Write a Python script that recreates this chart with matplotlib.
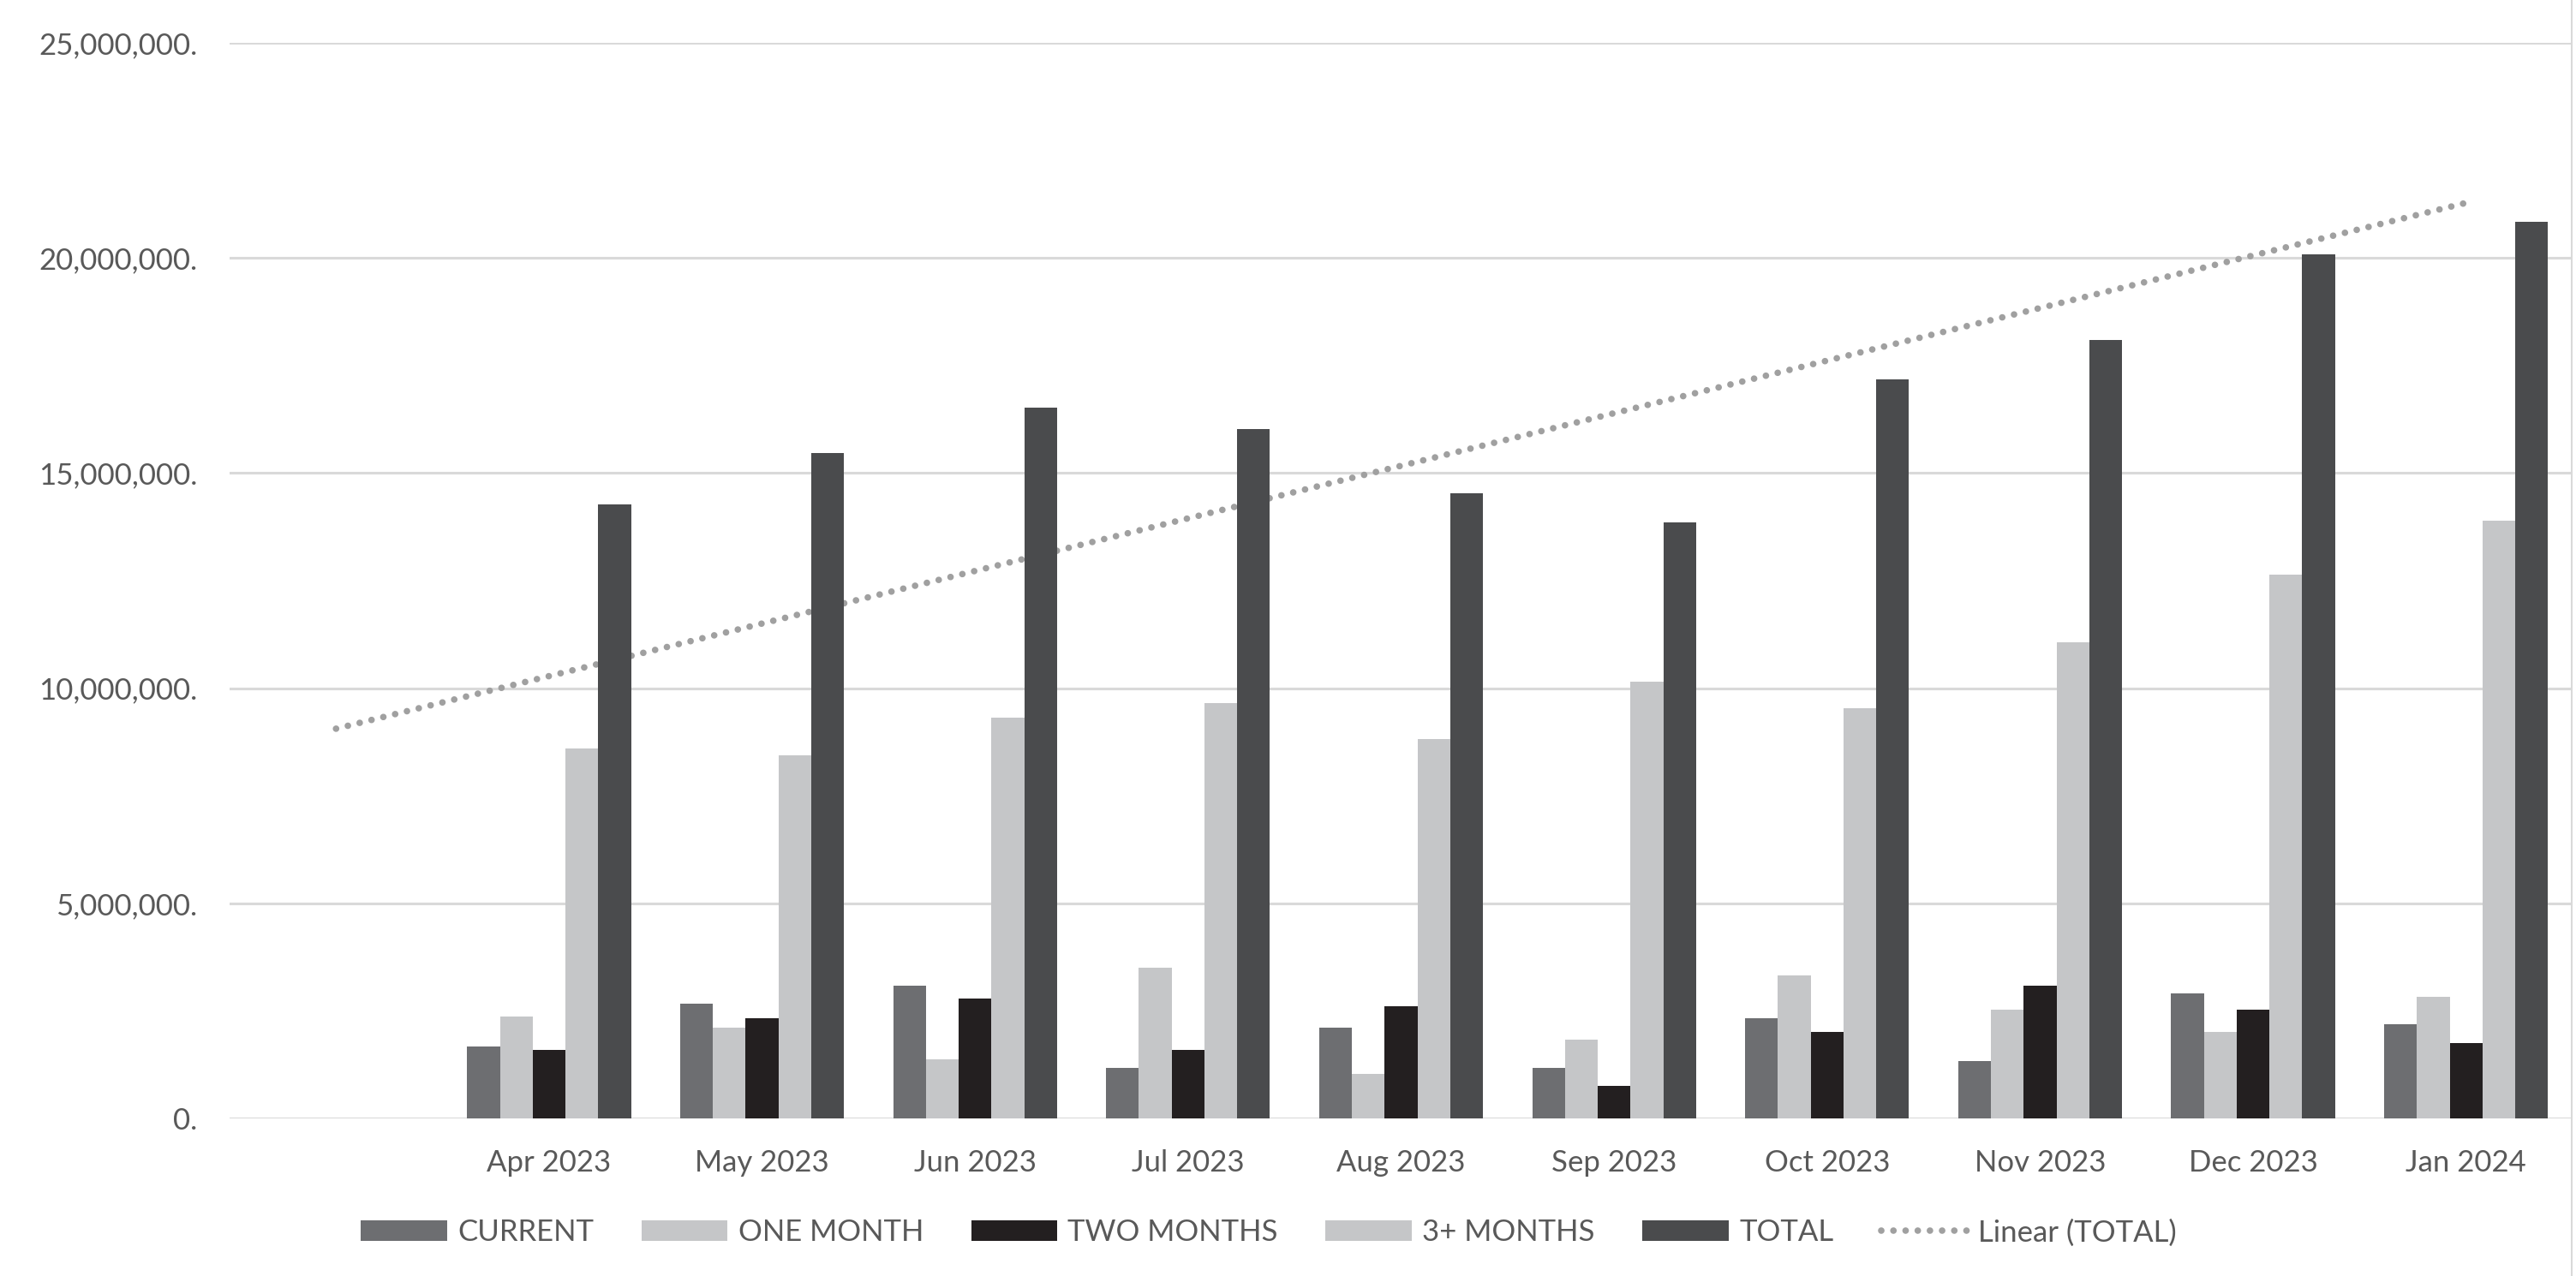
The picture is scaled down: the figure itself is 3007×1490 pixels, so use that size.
#!/usr/bin/env python3
"""Receivables ageing by month, grouped bars with a linear trend on TOTAL."""

import numpy as np
import matplotlib
matplotlib.use("Agg")
import matplotlib.pyplot as plt
from matplotlib.ticker import FuncFormatter

# first slot is an empty category in the source chart
MONTHS = ["", "Apr 2023", "May 2023", "Jun 2023", "Jul 2023", "Aug 2023",
          "Sep 2023", "Oct 2023", "Nov 2023", "Dec 2023", "Jan 2024"]

CURRENT = [1.68, 2.67, 3.09, 1.18, 2.10, 1.18, 2.33, 1.34, 2.90, 2.18]
ONE_MONTH = [2.37, 2.10, 1.37, 3.51, 1.03, 1.83, 3.32, 2.52, 2.02, 2.82]
TWO_MONTHS = [1.60, 2.33, 2.79, 1.60, 2.60, 0.76, 2.02, 3.09, 2.52, 1.76]
THREE_PLUS = [8.59, 8.44, 9.31, 9.66, 8.82, 10.15, 9.54, 11.07, 12.63, 13.89]
TOTAL = [14.27, 15.46, 16.53, 16.03, 14.54, 13.85, 17.18, 18.09, 20.08, 20.84]

SERIES = ["CURRENT", "ONE MONTH", "TWO MONTHS", "3+ MONTHS", "TOTAL"]
COLORS = ["#6d6e71", "#c5c6c8", "#231f20", "#c5c6c8", "#4a4b4d"]

TEXT = "#595959"
GRID = "#d9d9d9"

plt.rcParams["font.family"] = ["Lato", "DejaVu Sans"]


def main():
    fig = plt.figure(figsize=(30.07, 14.90), dpi=100)
    ax = fig.add_axes([0.0891, 0.1235, 0.9096, 0.8429])

    values = [CURRENT, ONE_MONTH, TWO_MONTHS, THREE_PLUS, TOTAL]
    x = np.arange(1, len(MONTHS))
    width = 1 / 6.5
    handles = []
    for i, (name, vals, col) in enumerate(zip(SERIES, values, COLORS)):
        b = ax.bar(x + (i - 2) * width, np.array(vals) * 1e6, width,
                   color=col, label=name, zorder=3)
        handles.append(b)

    # Excel linear trendline: blank first category counts as zero
    xs = np.arange(len(MONTHS))
    ys = np.array([0.0] + TOTAL) * 1e6
    slope, icpt = np.polyfit(xs, ys, 1)
    trend, = ax.plot(xs, slope * xs + icpt, color="#a0a0a0", lw=5.5,
                     linestyle=(0, (0.01, 1.85)), dash_capstyle="round",
                     label="Linear (TOTAL)", zorder=2)
    handles.append(trend)

    ax.set_xlim(-0.5, len(MONTHS) - 0.5)
    ax.set_ylim(0, 25e6)
    ax.set_yticks(np.arange(0, 25e6 + 1, 5e6))
    ax.yaxis.set_major_formatter(FuncFormatter(lambda v, p: f"{v:,.0f}."))
    ax.set_xticks(xs)
    ax.set_xticklabels(MONTHS)

    ax.grid(axis="y", color=GRID, lw=2.2, zorder=0)
    ax.set_axisbelow(True)
    for s in ax.spines.values():
        s.set_visible(False)
    ax.tick_params(length=0, labelsize=25, colors=TEXT)
    ax.tick_params(axis="y", pad=27)
    ax.tick_params(axis="x", pad=26)

    # thin chart border at the right edge
    fig.add_artist(plt.Line2D([0.9985, 0.9985], [0, 1], color=GRID, lw=1.5))

    leg = fig.legend(handles=handles, loc="center",
                     bbox_to_anchor=(0.4925, 0.034), ncol=6,
                     frameon=False, fontsize=25, handlelength=2.9,
                     handleheight=0.7, handletextpad=0.35, columnspacing=1.6)
    for t in leg.get_texts():
        t.set_color(TEXT)

    fig.savefig("out.png", dpi=100)
    plt.close(fig)


if __name__ == "__main__":
    main()
